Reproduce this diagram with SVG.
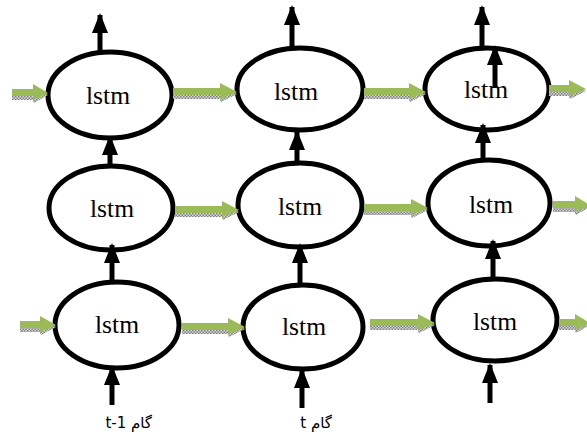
<svg xmlns="http://www.w3.org/2000/svg" width="587" height="435" viewBox="0 0 587 435">
  <defs>
    <style>
      .cell { fill: #ffffff; stroke: #000000; stroke-width: 5; }
      .flow { fill: #9bbb59; }
      .hatch { fill: url(#dots); }
      .up { stroke: #000000; stroke-width: 5; fill: none; marker-end: url(#head); }
    </style>
    <!-- stippled shadow texture under the green arrows -->
    <pattern id="dots" width="3" height="3" patternUnits="userSpaceOnUse">
      <rect width="3" height="3" fill="#d9d9d9"/>
      <rect width="1.5" height="1.5" fill="#7f7f7f"/>
      <rect x="1.5" y="1.5" width="1.5" height="1.5" fill="#7f7f7f"/>
    </pattern>
    <marker id="head" viewBox="0 0 20 16" refX="18" refY="8" markerWidth="20" markerHeight="16" markerUnits="userSpaceOnUse" orient="auto">
      <path d="M0,0 L20,8 L0,16 Z" fill="#000000"/>
    </marker>
  </defs>

  <!-- LSTM cells -->
  <g font-family="Times New Roman, Liberation Serif, DejaVu Serif, serif" font-size="25" text-anchor="middle" fill="#000000">
    <g id="c11"><ellipse class="cell" cx="110" cy="95" rx="62" ry="43"/><text x="108" y="104" textLength="44" lengthAdjust="spacingAndGlyphs">lstm</text></g>
    <g id="c12"><ellipse class="cell" cx="300" cy="89" rx="63" ry="41"/><text x="296" y="100" textLength="44" lengthAdjust="spacingAndGlyphs">lstm</text></g>
    <g id="c13"><ellipse class="cell" cx="487" cy="89" rx="62" ry="41"/><text x="486" y="98" textLength="44" lengthAdjust="spacingAndGlyphs">lstm</text></g>

    <g id="c21"><ellipse class="cell" cx="111" cy="208" rx="62" ry="42"/><text x="112" y="217" textLength="44" lengthAdjust="spacingAndGlyphs">lstm</text></g>
    <g id="c22"><ellipse class="cell" cx="300" cy="205" rx="62" ry="42"/><text x="300" y="215" textLength="44" lengthAdjust="spacingAndGlyphs">lstm</text></g>
    <g id="c23"><ellipse class="cell" cx="489" cy="203" rx="61" ry="43"/><text x="491" y="213" textLength="44" lengthAdjust="spacingAndGlyphs">lstm</text></g>

    <g id="c31"><ellipse class="cell" cx="117" cy="325" rx="62" ry="43"/><text x="117" y="333" textLength="44" lengthAdjust="spacingAndGlyphs">lstm</text></g>
    <g id="c32"><ellipse class="cell" cx="303" cy="327" rx="60" ry="42"/><text x="304" y="335" textLength="44" lengthAdjust="spacingAndGlyphs">lstm</text></g>
    <g id="c33"><ellipse class="cell" cx="495" cy="320" rx="62" ry="41"/><text x="495" y="330" textLength="44" lengthAdjust="spacingAndGlyphs">lstm</text></g>
  </g>

  <!-- step labels -->
  <g font-family="DejaVu Sans, sans-serif" font-size="15" fill="#000000">
    <g id="s1"><text x="152" y="428" direction="rtl" text-anchor="start">گام t-1</text></g>
    <g id="s2"><text x="332" y="428" direction="rtl" text-anchor="start">گام t</text></g>
  </g>

  <g id="connectors">
    <!-- recurrent (green) arrows: shaft, head, stippled lower edge -->
    <g id="green">
      <!-- row 1 -->
      <path class="flow" d="M12,89 H33 V84 L48,93 L33,102 V97 H12 Z"/>
      <path class="hatch" d="M12,96 H33 V100 H12 Z M33,100 L46,94 L48,95 L34,103 Z"/>
      <path class="flow" d="M173,88 H220 V83 L237,92 L220,101 V96 H173 Z"/>
      <path class="hatch" d="M173,95 H220 V99 H173 Z M220,99 L235,93 L237,94 L221,102 Z"/>
      <path class="flow" d="M364,88 H409 V83 L426,92 L409,101 V96 H364 Z"/>
      <path class="hatch" d="M364,95 H409 V99 H364 Z M409,99 L424,93 L426,94 L410,102 Z"/>
      <path class="flow" d="M549,85 H569 V80 L586,89 L569,98 V93 H549 Z"/>
      <path class="hatch" d="M549,92 H569 V96 H549 Z M569,96 L584,90 L586,91 L570,99 Z"/>
      <!-- row 2 -->
      <path class="flow" d="M175,206 H222 V201 L239,210 L222,219 V214 H175 Z"/>
      <path class="hatch" d="M175,213 H222 V217 H175 Z M222,217 L237,211 L239,212 L223,220 Z"/>
      <path class="flow" d="M364,204 H411 V199 L428,208 L411,217 V212 H364 Z"/>
      <path class="hatch" d="M364,211 H411 V215 H364 Z M411,215 L426,209 L428,210 L412,218 Z"/>
      <path class="flow" d="M553,201 H575 V196 L590,205 L575,214 V209 H553 Z"/>
      <path class="hatch" d="M553,208 H575 V212 H553 Z M575,212 L588,206 L590,207 L576,215 Z"/>
      <!-- row 3 -->
      <path class="flow" d="M20,321 H40 V316 L56,325 L40,334 V329 H20 Z"/>
      <path class="hatch" d="M20,328 H40 V332 H20 Z M40,332 L54,326 L56,327 L41,335 Z"/>
      <path class="flow" d="M182,323 H228 V318 L245,327 L228,336 V331 H182 Z"/>
      <path class="hatch" d="M182,330 H228 V334 H182 Z M228,334 L243,328 L245,329 L229,337 Z"/>
      <path class="flow" d="M370,319 H418 V314 L435,323 L418,332 V327 H370 Z"/>
      <path class="hatch" d="M370,326 H418 V330 H370 Z M418,330 L433,324 L435,325 L419,333 Z"/>
      <path class="flow" d="M559,319 H575 V314 L590,323 L575,332 V327 H559 Z"/>
      <path class="hatch" d="M559,326 H575 V330 H559 Z M575,330 L588,324 L590,325 L576,333 Z"/>
    </g>

    <!-- vertical (black) arrows -->
    <g id="black">
      <!-- outputs of the top row -->
      <path class="up" d="M100,53 V15"/>
      <path class="up" d="M292,48 V7"/>
      <path class="up" d="M482,47 V7"/>
      <path class="up" d="M495,88 V47"/>
      <!-- row 2 to row 1 -->
      <path class="up" d="M110,167 V137"/>
      <path class="up" d="M297,163 V132"/>
      <path class="up" d="M483,160 V125"/>
      <!-- row 3 to row 2 -->
      <path class="up" d="M112,283 V245"/>
      <path class="up" d="M300,285 V245"/>
      <path class="up" d="M493,279 V241"/>
      <!-- inputs -->
      <path class="up" d="M112,405 V367"/>
      <path class="up" d="M302,408 V370"/>
      <path class="up" d="M490,403 V365"/>
    </g>
  </g>
</svg>
